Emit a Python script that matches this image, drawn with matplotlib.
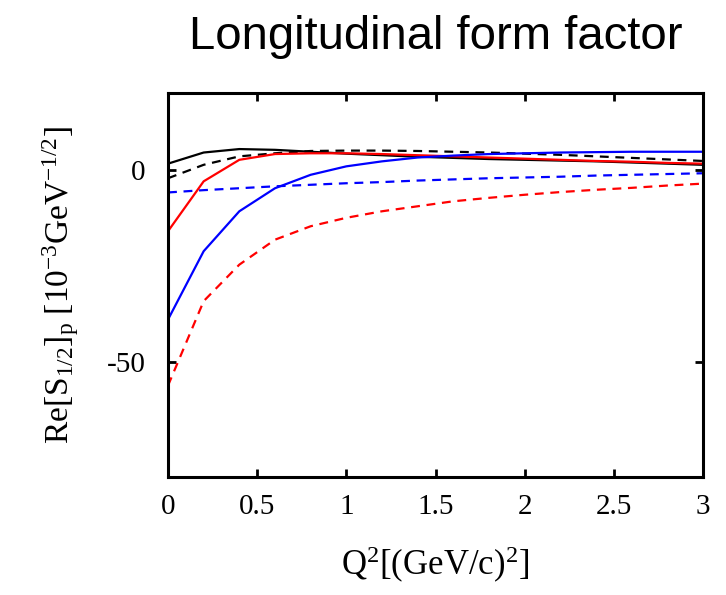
import numpy as np
import matplotlib
matplotlib.use("Agg")
import matplotlib.pyplot as plt

plt.rcParams['font.family'] = ['Liberation Serif', 'DejaVu Serif']
plt.rcParams['mathtext.default'] = 'regular'
plt.rcParams['axes.unicode_minus'] = False

# Q^2 grid (GeV/c)^2
q2 = [0.0, 0.2, 0.4, 0.6, 0.8, 1.0, 1.2, 1.4, 1.6, 1.8, 2.0, 2.2, 2.4, 2.6, 2.8, 3.0]

black_solid = [1.6, 4.5, 5.4, 5.2, 4.7, 4.2, 3.8, 3.4, 3.1, 2.8, 2.6, 2.4, 2.2, 1.9, 1.6, 1.3]
black_dash = [-2.2, 1.3, 3.5, 4.3, 4.9, 5.0, 5.0, 4.9, 4.7, 4.5, 4.2, 3.9, 3.5, 3.1, 2.7, 2.3]
red_solid = [-16.0, -3.0, 2.6, 4.1, 4.3, 4.3, 4.1, 3.8, 3.5, 3.2, 2.9, 2.6, 2.3, 2.1, 1.8, 1.6]
red_dash = [-56.2, -34.2, -24.7, -18.2, -14.7, -12.5, -10.8, -9.5, -8.2, -7.3, -6.5, -5.8, -5.2, -4.7, -4.1, -3.6]
blue_solid = [-39.0, -21.2, -10.8, -4.8, -1.3, 0.9, 2.2, 3.2, 3.7, 4.1, 4.3, 4.5, 4.6, 4.7, 4.7, 4.7]
blue_dash = [-5.9, -5.3, -4.8, -4.3, -3.9, -3.5, -3.2, -2.8, -2.5, -2.2, -2.0, -1.8, -1.5, -1.3, -1.1, -0.9]

fig = plt.figure(figsize=(7.26, 5.95), dpi=100)
ax = fig.add_axes([168/726, 1 - 477/595, (703-168)/726, (477-93)/595])

lw = 1.6
ax.plot(q2, black_solid, color='black', lw=lw)
ax.plot(q2, black_dash, color='black', lw=lw, ls=(0, (4, 3)))
ax.plot(q2, red_solid, color='red', lw=lw)
ax.plot(q2, red_dash, color='red', lw=lw, ls=(0, (4, 3)))
ax.plot(q2, blue_solid, color='blue', lw=lw)
ax.plot(q2, blue_dash, color='blue', lw=lw, ls=(0, (4, 3)))

ax.set_xlim(0, 3)
ax.set_ylim(-80, 20)
ax.set_xticks([0, 0.5, 1, 1.5, 2, 2.5, 3])
ax.set_xticklabels(['0', '0.5', '1', '1.5', '2', '2.5', '3'])
ax.set_yticks([0, -50])
ax.tick_params(direction='in', length=6, width=2, top=True, right=True,
               labelsize=21)
ax.tick_params(axis='x', pad=12)
ax.tick_params(axis='y', pad=16)
for s in ax.spines.values():
    s.set_linewidth(2.2)

ax.set_xlabel(r'Q$^2$[(GeV/c)$^2$]', fontsize=25, labelpad=18)
ax.set_ylabel(r'Re[S$_{1/2}$]$_p$ [10$^{-3}$GeV$^{-1/2}$]', fontsize=24, labelpad=19)
ax.set_title('Longitudinal form factor', fontsize=34, family='Liberation Sans', pad=32)

fig.savefig('out.png', dpi=100)
